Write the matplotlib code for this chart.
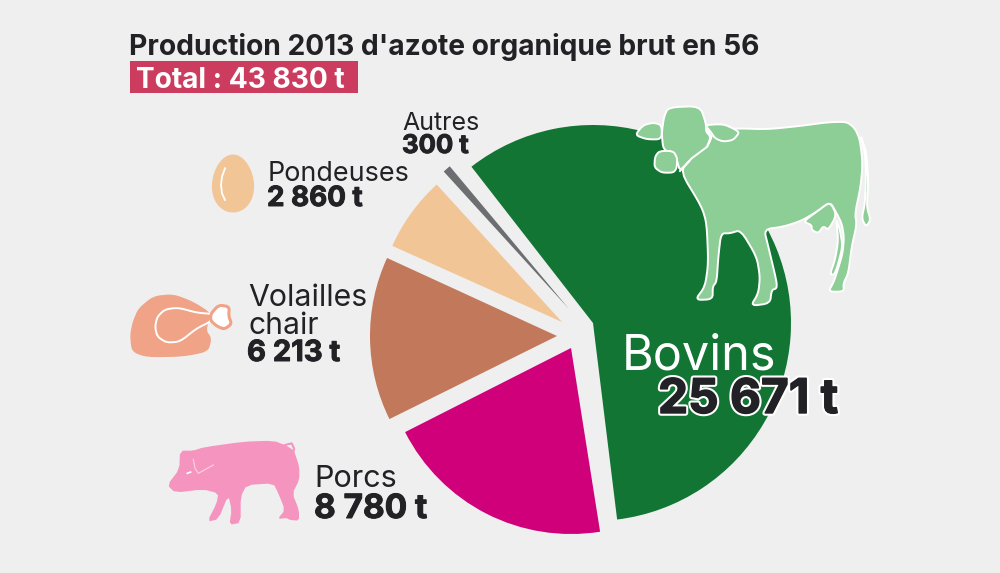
import matplotlib
matplotlib.use("Agg")
import matplotlib.pyplot as plt
import matplotlib.patheffects as pe
from matplotlib.patches import Polygon, Rectangle
import numpy as np

H = 573
BG = "#efefef"
DARK = "#222226"
plt.rcParams['font.family'] = ['Inter', 'DejaVu Sans']

# production par categorie (tonnes)
labels = ["Bovins", "Autres", "Pondeuses", "Volailles chair", "Porcs"]
valeurs = [25671, 300, 2860, 6213, 8780]
couleurs = ["#127533", "#6d6e71", "#f2c596", "#c2785a", "#d0007a"]
# sommet, rayon et rotation de chaque part (pixels de l'image, degres)
sommets = [(593, 323), (569, 309), (562, 322), (557, 336), (571, 348)]
rayons = [198, 186, 186, 187, 186]
rotation = [0, 2, 2, 1.5, 2]


def Y(y):
    return H - y


def lisse(pts, n=2):
    # adoucit les contours releves a la main (coupe des coins)
    pts = np.array(pts, dtype=float)
    for _ in range(n):
        suiv = np.roll(pts, -1, axis=0)
        pts = np.column_stack([0.8 * pts + 0.2 * suiv, 0.2 * pts + 0.8 * suiv]).reshape(-1, 2)
    return pts


def zoom_pts(pts, x0, y0):
    return [(x0 + x / 3, Y(y0 + y / 3)) for x, y in pts]


def texte(x, y, s, size, weight="normal", color=DARK, **kw):
    return ax.text(x, Y(y), s, fontsize=size, fontweight=weight, color=color,
                   ha="left", va="baseline", **kw)


def valeur(x, y, s, size):
    # chiffres plus gras que le bold de la police
    return texte(x, y, s, size, "bold", path_effects=[pe.withStroke(linewidth=0.7, foreground=DARK)])


fig = plt.figure(figsize=(10, 5.73), dpi=100, facecolor=BG)
ax = fig.add_axes([0, 0, 1, 1])

wedges, _ = ax.pie(valeurs, colors=couleurs, startangle=-83, counterclock=True)
for w, c, r, d in zip(wedges, sommets, rayons, rotation):
    w.set_center((c[0], Y(c[1])))
    w.set_radius(r)
    t1, t2 = w.theta1, w.theta2
    w.set_theta1(t1 + d)
    w.set_theta2(t2 + d)

ax.set_xlim(0, 1000)
ax.set_ylim(0, H)
ax.set_aspect("equal")
ax.axis("off")

# vache
VERT = "#8dcd96"
cow = {
    "queue": [(720, 130), (740, 190), (745, 280), (740, 350), (752, 390), (738, 410), (725, 385),
              (735, 340), (738, 260), (735, 190)],
    "patte": [(648, 385), (660, 420), (668, 470), (652, 530), (642, 555), (630, 552), (645, 510), (655, 450)],
    "pis": [(550, 395), (590, 365), (630, 335), (650, 375), (625, 420), (610, 408), (595, 430), (575, 420), (575, 405)],
    "corps": [(180, 243), (215, 205), (262, 170), (275, 140), (262, 120), (358, 115), (440, 118), (540, 108),
              (620, 97), (680, 95), (705, 115), (720, 150), (728, 220), (722, 290), (705, 370), (710, 405),
              (695, 470), (685, 550), (670, 580), (672, 605), (625, 605), (640, 578), (650, 550), (668, 490),
              (672, 440), (665, 400), (650, 370), (630, 335), (590, 365), (545, 392), (490, 410), (432, 418),
              (445, 470), (470, 575), (470, 595), (455, 600), (450, 640), (392, 648), (415, 610), (420, 560),
              (410, 500), (362, 420), (330, 430), (303, 430), (295, 500), (290, 575), (278, 590), (278, 628),
              (225, 630), (255, 590), (265, 520), (260, 400), (245, 350)],
    "oreille_d": [(255, 105), (310, 102), (345, 118), (358, 128), (340, 150), (310, 155), (285, 145), (272, 125)],
    "oreille_g": [(45, 135), (70, 105), (100, 98), (125, 105), (125, 148), (80, 148)],
    "tete": [(145, 52), (240, 48), (258, 100), (258, 125), (272, 140), (262, 170), (215, 205), (180, 243),
             (172, 215), (165, 190), (130, 180), (125, 130), (132, 80)],
    "museau": [(118, 183), (160, 183), (172, 205), (170, 235), (160, 248), (125, 248), (103, 232), (105, 200)],
}
for nom, pts in cow.items():
    ax.add_patch(Polygon(lisse(zoom_pts(pts, 620, 90)), closed=True, facecolor=VERT, edgecolor="white",
                         lw=1.4, joinstyle="round", zorder=3))
# raccord tete / corps sans trait
ax.add_patch(Polygon(zoom_pts([(200, 205), (262, 165), (290, 150), (300, 170), (230, 230)], 620, 90),
                     closed=True, facecolor=VERT, edgecolor="none", zorder=3))
ax.plot(*zip(*zoom_pts([(180, 243), (215, 205), (262, 170), (275, 140), (262, 125)], 620, 90)),
        color="white", lw=1.4, zorder=4)

# oeuf
t = np.linspace(0, 2 * np.pi, 100)
ex = 233 + 21 * np.cos(t) * (1 - 0.10 * np.sin(t))
ey = 183.5 - 29 * np.sin(t)
ax.fill(ex, Y(ey), color="#f2c596", lw=0, zorder=3)
ax.plot(*zip(*zoom_pts([(315, 85), (306, 110), (303, 135), (306, 160), (315, 180)], 120, 140)),
        color="white", lw=1.3, zorder=4)

# cuisse de poulet
PECHE = "#f0a386"
poulet = [(30, 585), (38, 545), (55, 505), (100, 468), (160, 462), (220, 485), (275, 520), (258, 570), (275, 595),
          (265, 635), (190, 650), (80, 652), (35, 635)]
ax.add_patch(Polygon(lisse(zoom_pts(poulet, 120, 140)), closed=True, facecolor=PECHE, edgecolor="none", zorder=3))
cuisse = [(105, 560), (112, 530), (135, 508), (175, 503), (230, 518), (278, 522), (272, 545), (230, 565),
          (180, 605), (140, 608), (112, 590)]
ax.add_patch(Polygon(lisse(zoom_pts(cuisse, 120, 140)), closed=True, facecolor=PECHE, edgecolor="white", lw=1.4,
                     joinstyle="round", zorder=4))
os_ = [(272, 522), (296, 495), (328, 500), (326, 528), (335, 552), (312, 568), (290, 558), (272, 542)]
ax.add_patch(Polygon(lisse(zoom_pts(os_, 120, 140)), closed=True, facecolor="white", edgecolor=PECHE, lw=2.2,
                     joinstyle="round", zorder=5))

# cochon
ROSE = "#f494bf"
cochon = [(52, 165), (88, 118), (90, 62), (130, 62), (160, 52), (280, 35), (370, 32), (410, 47), (432, 62),
          (448, 110), (448, 150), (427, 190), (447, 240), (447, 272), (420, 270), (410, 264), (383, 267),
          (405, 240), (385, 190), (370, 160), (290, 165), (272, 200), (272, 278), (238, 285), (245, 240),
          (235, 195), (205, 268), (172, 275), (200, 220), (205, 190), (160, 178), (75, 188)]
ax.add_patch(Polygon(lisse(zoom_pts(cochon, 150, 430), 1), closed=True, facecolor=ROSE, edgecolor="none", zorder=3))
ax.plot(*zip(*zoom_pts([(405, 45), (425, 40), (432, 55), (430, 70)], 150, 430)), color=ROSE, lw=1.5, zorder=3)
ax.plot(*zip(*zoom_pts([(130, 88), (135, 115), (145, 130), (190, 105)], 150, 430)), color="#fbd3e4", lw=0.8, zorder=4)
ax.plot(*zip(*zoom_pts([(112, 130), (122, 126)], 150, 430)), color="white", lw=1.2, zorder=4)

# titre
texte(129, 55, "Production 2013 d'azote organique brut en 56", 20.3, "bold")
ax.add_patch(Rectangle((130, Y(93)), 228, 32, facecolor="#cb3c5e", edgecolor="none", zorder=2))
texte(136, 88, "Total : 43 830 t", 20.2, "bold", color="white", zorder=3)

# etiquettes
texte(402, 130, "Autres", 18)
valeur(402, 153, "300 t", 18.5)
texte(268, 181, "Pondeuses", 19.4)
valeur(267, 206, "2 860 t", 20)
texte(248, 306, "Volailles", 21.8)
texte(248, 334, "chair", 21.6)
valeur(247, 361, "6 213 t", 21)
texte(314, 487, "Porcs", 22)
valeur(314, 518, "8 780 t", 24)
texte(622, 369, "Bovins", 35, color="white", zorder=5)
texte(658, 413, "25 671 t", 34.4, "bold", zorder=5,
      path_effects=[pe.Stroke(linewidth=4, foreground="white"), pe.Stroke(linewidth=1, foreground=DARK), pe.Normal()])

fig.savefig("out.png", dpi=100, facecolor=BG)
